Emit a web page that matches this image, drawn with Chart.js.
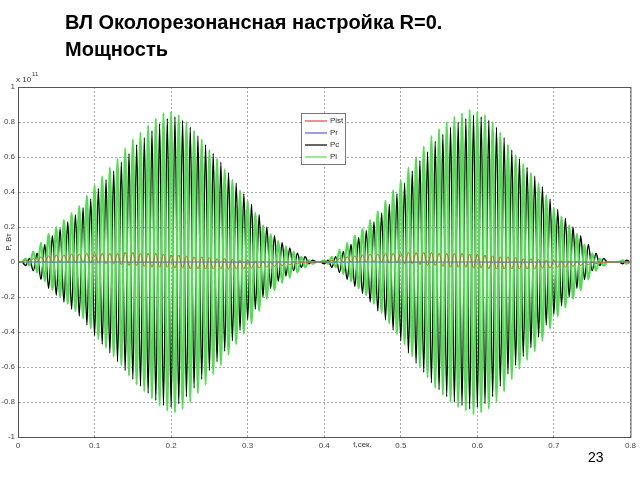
<!DOCTYPE html>
<html lang="ru">
<head>
<meta charset="UTF-8">
<title>ВЛ Околорезонансная настройка R=0. Мощность</title>
<script src="https://cdn.jsdelivr.net/npm/chart.js"></script>
<style>
  body { margin: 0; width: 640px; height: 480px; background: #fff; position: relative; overflow: hidden;
         font-family: "Liberation Sans", Arial, sans-serif; }
  #titulo { position: absolute; left: 65px; top: 9px; margin: 0; font-size: 20px; font-weight: bold;
            line-height: 27px; color: #000; }
  #pagina { position: absolute; left: 588px; top: 449px; font-size: 14px; color: #000; }
  #grafico { position: absolute; left: 0; top: 0; }
</style>
</head>
<body>
<canvas id="grafico" width="640" height="480"></canvas>
<h1 id="titulo">ВЛ Околорезонансная настройка R=0.<br>Мощность</h1>
<div id="pagina">23</div>

<script>
// valores em unidades de 1e11 W, um valor por ciclo (periodo 0.01 s)
const period = 0.01;

// amplitude dos picos de Pl (verde)
const plAmp = [
  0.00, 0.02, 0.06, 0.11, 0.16, 0.20, 0.24, 0.28, 0.32, 0.38,
  0.44, 0.49, 0.54, 0.59, 0.65, 0.70, 0.74, 0.78, 0.82, 0.85,
  0.86, 0.84, 0.80, 0.75, 0.70, 0.64, 0.59, 0.53, 0.47, 0.41,
  0.35, 0.28, 0.21, 0.16, 0.12, 0.09, 0.06, 0.03, 0.01, 0.00,
  0.01, 0.03, 0.07, 0.11, 0.15, 0.19, 0.24, 0.29, 0.35, 0.41,
  0.47, 0.54, 0.60, 0.66, 0.72, 0.76, 0.80, 0.83, 0.85, 0.87,
  0.86, 0.84, 0.80, 0.74, 0.67, 0.61, 0.56, 0.51, 0.45, 0.38,
  0.31, 0.26, 0.21, 0.16, 0.10, 0.05, 0.02, 0.00, 0.00, 0.01,
  0.00
];

// amplitude dos picos de Pc (preto)
const pcAmp = [
  0.00, 0.02, 0.05, 0.10, 0.15, 0.19, 0.23, 0.27, 0.31, 0.36,
  0.42, 0.47, 0.52, 0.57, 0.62, 0.67, 0.71, 0.75, 0.79, 0.82,
  0.83, 0.81, 0.77, 0.72, 0.67, 0.62, 0.57, 0.51, 0.45, 0.39,
  0.33, 0.27, 0.20, 0.15, 0.11, 0.08, 0.05, 0.03, 0.01, 0.00,
  0.01, 0.03, 0.06, 0.10, 0.14, 0.18, 0.23, 0.28, 0.33, 0.39,
  0.45, 0.52, 0.58, 0.63, 0.69, 0.73, 0.77, 0.80, 0.82, 0.84,
  0.83, 0.81, 0.77, 0.71, 0.64, 0.59, 0.54, 0.49, 0.43, 0.36,
  0.30, 0.25, 0.20, 0.15, 0.10, 0.05, 0.02, 0.00, 0.00, 0.01,
  0.00
];

// Pist: maximos e minimos de cada ciclo
const pistHi = [
  0.00, 0.01, 0.02, 0.03, 0.035, 0.04, 0.04, 0.045, 0.045, 0.05,
  0.05, 0.05, 0.05, 0.05, 0.055, 0.055, 0.05, 0.05, 0.05, 0.045,
  0.04, 0.04, 0.035, 0.03, 0.03, 0.025, 0.02, 0.02, 0.015, 0.01,
  0.01, 0.005, 0.005, 0.00, 0.00, 0.00, 0.00, 0.00, 0.00, 0.00,
  0.00, 0.01, 0.02, 0.03, 0.035, 0.04, 0.045, 0.045, 0.05, 0.05,
  0.05, 0.055, 0.055, 0.055, 0.055, 0.05, 0.05, 0.05, 0.05, 0.045,
  0.045, 0.04, 0.035, 0.03, 0.03, 0.025, 0.02, 0.02, 0.015, 0.01,
  0.01, 0.005, 0.005, 0.005, 0.00, 0.00, 0.00, 0.00, 0.00, 0.00,
  0.00
];
const pistLo = [
  0.00, 0.00, 0.00, 0.00, 0.00, 0.00, 0.00, 0.00, 0.00, -0.005,
  -0.005, -0.01, -0.01, -0.015, -0.02, -0.02, -0.025, -0.03, -0.03, -0.03,
  -0.035, -0.035, -0.04, -0.04, -0.04, -0.04, -0.04, -0.04, -0.04, -0.04,
  -0.035, -0.035, -0.03, -0.025, -0.02, -0.015, -0.01, -0.005, 0.00, 0.00,
  0.00, 0.00, 0.00, 0.00, 0.00, 0.00, 0.00, 0.00, -0.005, -0.005,
  -0.01, -0.01, -0.015, -0.02, -0.02, -0.025, -0.03, -0.03, -0.03, -0.035,
  -0.035, -0.04, -0.04, -0.04, -0.04, -0.04, -0.04, -0.04, -0.035, -0.035,
  -0.03, -0.03, -0.025, -0.02, -0.015, -0.01, -0.005, 0.00, 0.00, 0.00,
  0.00
];

// Pr fica em zero
const prTimes = [0, 0.8];
const prValues = [0, 0];

const xTickLabels = ['0', '0.1', '0.2', '0.3', '0.4', '0.5', '0.6', '0.7', '0.8'];
const yTickLabels = ['-1', '-0.8', '-0.6', '-0.4', '-0.2', '0', '0.2', '0.4', '0.6', '0.8', '1'];

const series = [
  { label: 'Pist', color: '#e04848' },
  { label: 'Pr',   color: '#5a5ad8' },
  { label: 'Pc',   color: '#000000' },
  { label: 'Pl',   color: '#4ee04e' }
];

// monta a onda: topo no inicio do ciclo, fundo no meio
function montarOnda(topos, fundos) {
  const pts = [];
  topos.forEach((v, i) => {
    pts.push({ x: i * period, y: v });
    pts.push({ x: i * period + period / 2, y: fundos[i] });
  });
  return pts;
}

const dadosPl = montarOnda(plAmp, plAmp.map(v => -v));
const dadosPc = montarOnda(pcAmp.map(v => -v), pcAmp);
const dadosPist = montarOnda(pistHi, pistLo);
const dadosPr = prTimes.map((t, i) => ({ x: t, y: prValues[i] }));

const fonteTick = { family: '"Liberation Sans", Arial, sans-serif', size: 8 };

// moldura, legenda e textos extras no estilo do MATLAB
const extras = {
  id: 'extras',
  afterDraw(chart) {
    const ctx = chart.ctx;
    const a = chart.chartArea;
    ctx.save();
    ctx.strokeStyle = '#555';
    ctx.lineWidth = 1;
    ctx.strokeRect(a.left + 0.5, a.top + 0.5, a.right - a.left, a.bottom - a.top);

    // legenda
    const lx = 301, ly = 113, lw = 44, lh = 51;
    ctx.fillStyle = '#fff';
    ctx.fillRect(lx, ly, lw, lh);
    ctx.strokeStyle = '#777';
    ctx.strokeRect(lx + 0.5, ly + 0.5, lw, lh);
    ctx.font = '8px "Liberation Sans", Arial, sans-serif';
    ctx.textBaseline = 'middle';
    series.forEach((s, i) => {
      const y = ly + 8 + i * 12;
      ctx.strokeStyle = s.color;
      ctx.lineWidth = 1.2;
      ctx.beginPath();
      ctx.moveTo(lx + 4, y);
      ctx.lineTo(lx + 26, y);
      ctx.stroke();
      ctx.fillStyle = '#333';
      ctx.fillText(s.label, lx + 29, y);
    });

    // x 10^11
    ctx.fillStyle = '#333';
    ctx.textBaseline = 'alphabetic';
    ctx.font = '8px "Liberation Sans", Arial, sans-serif';
    ctx.fillText('x 10', 16, 82);
    ctx.font = '6px "Liberation Sans", Arial, sans-serif';
    ctx.fillText('11', 32, 76);

    // rotulo do eixo x
    const xs = chart.scales.x;
    ctx.font = '8px "Liberation Sans", Arial, sans-serif';
    ctx.textAlign = 'center';
    ctx.textBaseline = 'top';
    ctx.fillText('t,сек.', xs.getPixelForValue(0.45), a.bottom + 4);

    // rotulo do eixo y
    ctx.translate(9, 242);
    ctx.rotate(-Math.PI / 2);
    ctx.textBaseline = 'middle';
    ctx.fillText('P, Вт', 0, 0);
    ctx.restore();
  }
};

const ctx = document.getElementById('grafico').getContext('2d');
new Chart(ctx, {
  type: 'line',
  data: {
    datasets: [
      { label: 'Pist', data: dadosPist, borderColor: '#c0662a', borderWidth: 1, order: 0 },
      { label: 'Pr', data: dadosPr, borderColor: '#3b7fc4', borderWidth: 1.2, order: 1 },
      { label: 'Pl', data: dadosPl, borderColor: '#4ee04e', borderWidth: 2.2, order: 2 },
      { label: 'Pc', data: dadosPc, borderColor: '#000000', borderWidth: 1.4, order: 3 }
    ]
  },
  options: {
    responsive: false,
    animation: false,
    parsing: false,
    normalized: true,
    elements: {
      point: { radius: 0 },
      line: { cubicInterpolationMode: 'monotone', fill: false }
    },
    layout: { padding: { left: 0, top: 87, right: 8, bottom: 0 } },
    plugins: {
      legend: { display: false },
      tooltip: { enabled: false }
    },
    scales: {
      x: {
        type: 'linear',
        min: 0,
        max: 0.8,
        afterFit(scale) { scale.height = 43; },
        ticks: {
          stepSize: 0.1,
          padding: 4,
          color: '#444',
          font: fonteTick,
          maxRotation: 0,
          callback: (v, i) => xTickLabels[i]
        },
        grid: { color: '#a8a8a8', drawTicks: false },
        border: { display: true, color: '#555', dash: [2, 2] }
      },
      y: {
        type: 'linear',
        min: -1,
        max: 1,
        afterFit(scale) { scale.width = 18; },
        ticks: {
          stepSize: 0.2,
          padding: 3,
          color: '#444',
          font: fonteTick,
          callback: (v, i) => yTickLabels[i]
        },
        grid: { color: '#a8a8a8', drawTicks: false },
        border: { display: true, color: '#555', dash: [2, 2] }
      }
    }
  },
  plugins: [extras]
});
</script>
</body>
</html>
